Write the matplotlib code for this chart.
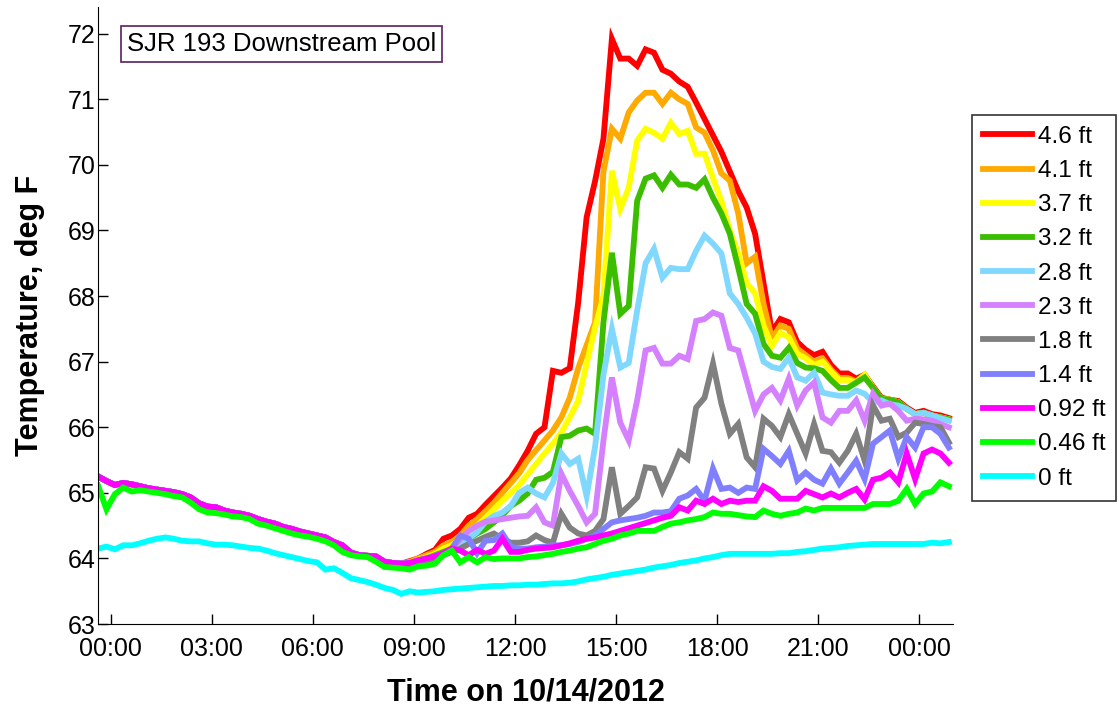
import numpy as np
import matplotlib
matplotlib.use("Agg")
import matplotlib.pyplot as plt

plt.rcParams['font.family'] = ['Liberation Sans', 'DejaVu Sans']

# sample times, hours from midnight 10/14/2012 (15 min logger interval)
t0 = -0.375
n_samples = 102
times = t0 + 0.25 * np.arange(n_samples)

# shared trace of the upper sensors before the afternoon warm-up (first 37 samples)
dawn = [65.25, 65.18, 65.12, 65.15, 65.13, 65.10, 65.07, 65.05, 65.03, 65.01,
        64.98, 64.93, 64.84, 64.79, 64.78, 64.73, 64.70, 64.68, 64.65, 64.60,
        64.56, 64.53, 64.48, 64.45, 64.41, 64.38, 64.35, 64.32, 64.25, 64.20,
        64.09, 64.05, 64.04, 64.03, 63.95, 63.93, 63.92]

# remaining 65 samples for each sensor depth
t46 = [63.96, 64.00, 64.07, 64.13, 64.30, 64.35, 64.45, 64.62, 64.68, 64.82,
       64.95, 65.08, 65.22, 65.42, 65.64, 65.90, 66.00, 66.86, 66.83, 66.90,
       67.90, 69.20, 69.75, 70.40, 71.92, 71.62, 71.62, 71.51, 71.76, 71.71,
       71.45, 71.39, 71.27, 71.19, 70.95, 70.70, 70.45, 70.20, 69.90, 69.60,
       69.35, 68.95, 68.20, 67.45, 67.65, 67.60, 67.30, 67.18, 67.10, 67.15,
       66.95, 66.82, 66.82, 66.74, 66.80, 66.62, 66.45, 66.42, 66.40, 66.30,
       66.22, 66.25, 66.20, 66.18, 66.14]
t41 = [63.95, 64.00, 64.05, 64.10, 64.20, 64.25, 64.35, 64.50, 64.60, 64.72,
       64.85, 65.00, 65.15, 65.30, 65.50, 65.65, 65.80, 65.95, 66.15, 66.45,
       66.90, 67.25, 67.60, 69.90, 70.55, 70.40, 70.80, 70.98, 71.10, 71.10,
       70.93, 71.10, 71.00, 70.93, 70.57, 70.49, 70.22, 69.87, 69.76, 69.26,
       68.50, 68.60, 67.88, 67.35, 67.55, 67.50, 67.20, 67.10, 67.00, 67.05,
       66.88, 66.75, 66.75, 66.70, 66.80, 66.60, 66.43, 66.42, 66.38, 66.28,
       66.20, 66.22, 66.18, 66.15, 66.12]
t37 = [63.93, 63.98, 64.02, 64.07, 64.15, 64.20, 64.30, 64.42, 64.50, 64.62,
       64.75, 64.88, 65.00, 65.12, 65.28, 65.44, 65.60, 65.75, 65.92, 66.15,
       66.40, 66.97, 67.52, 68.00, 69.91, 69.33, 69.65, 70.37, 70.55, 70.49,
       70.40, 70.64, 70.47, 70.52, 70.17, 70.17, 69.80, 69.45, 69.00, 68.65,
       68.20, 68.04, 67.55, 67.24, 67.44, 67.37, 67.12, 67.05, 66.95, 67.00,
       66.85, 66.72, 66.72, 66.68, 66.80, 66.60, 66.43, 66.42, 66.38, 66.28,
       66.20, 66.22, 66.18, 66.15, 66.12]
t32 = [63.92, 63.97, 64.00, 64.05, 64.10, 64.15, 64.22, 64.30, 64.38, 64.45,
       64.55, 64.66, 64.80, 64.88, 64.99, 65.20, 65.23, 65.32, 65.85, 65.87,
       65.95, 65.98, 65.90, 67.60, 68.66, 67.73, 67.85, 69.45, 69.79, 69.84,
       69.65, 69.85, 69.70, 69.70, 69.65, 69.78, 69.50, 69.26, 68.95, 68.43,
       67.88, 67.73, 67.27, 67.09, 67.06, 67.21, 66.98, 66.91, 66.90, 66.86,
       66.72, 66.60, 66.60, 66.68, 66.76, 66.60, 66.43, 66.42, 66.38, 66.28,
       66.20, 66.22, 66.18, 66.15, 66.12]
t28 = [63.92, 63.96, 64.00, 64.03, 64.08, 64.15, 64.25, 64.30, 64.40, 64.56,
       64.65, 64.70, 64.80, 65.00, 65.08, 64.99, 64.93, 65.15, 65.60, 65.44,
       65.52, 64.95, 65.70, 66.80, 67.50, 66.91, 66.98, 67.78, 68.50, 68.72,
       68.28, 68.43, 68.41, 68.41, 68.69, 68.92, 68.80, 68.65, 68.04, 67.88,
       67.67, 67.43, 67.00, 66.92, 66.89, 67.06, 66.76, 66.71, 66.83, 66.53,
       66.50, 66.48, 66.48, 66.56, 66.51, 66.38, 66.41, 66.35, 66.33, 66.28,
       66.20, 66.22, 66.18, 66.14, 66.10]
t23 = [63.93, 63.97, 64.00, 64.03, 64.07, 64.15, 64.30, 64.42, 64.50, 64.56,
       64.58, 64.60, 64.62, 64.64, 64.65, 64.78, 64.55, 64.50, 65.29, 65.03,
       64.80, 64.55, 64.68, 65.80, 66.76, 66.07, 65.80, 66.41, 67.17, 67.21,
       66.97, 66.97, 67.09, 67.04, 67.62, 67.65, 67.75, 67.70, 67.21, 67.17,
       66.71, 66.25, 66.50, 66.60, 66.41, 66.74, 66.33, 66.56, 66.68, 66.15,
       66.07, 66.25, 66.25, 66.41, 66.10, 66.51, 66.33, 66.36, 66.25, 66.10,
       66.13, 66.12, 66.10, 66.05, 66.00]
t18 = [63.90, 63.93, 63.97, 64.00, 64.05, 64.10, 64.15, 64.22, 64.27, 64.33,
       64.38, 64.30, 64.24, 64.24, 64.26, 64.35, 64.28, 64.24, 64.68, 64.47,
       64.38, 64.35, 64.42, 64.60, 65.39, 64.68, 64.80, 64.93, 65.39, 65.37,
       65.03, 65.31, 65.62, 65.52, 66.30, 66.45, 66.97, 66.36, 65.90, 66.05,
       65.54, 65.39, 66.13, 66.02, 65.85, 66.20, 65.90, 65.60, 66.05, 65.64,
       65.62, 65.46, 65.64, 65.90, 65.49, 66.33, 66.10, 66.13, 65.85, 65.92,
       66.07, 66.05, 66.02, 66.00, 65.77]
t14 = [63.93, 63.97, 64.00, 64.04, 64.08, 64.15, 64.35, 64.30, 64.08, 64.27,
       64.28, 64.38, 64.18, 64.15, 64.15, 64.17, 64.18, 64.20, 64.20, 64.22,
       64.25, 64.30, 64.35, 64.45, 64.55, 64.58, 64.60, 64.62, 64.65, 64.70,
       64.70, 64.72, 64.91, 64.96, 65.06, 64.88, 65.37, 65.06, 65.08, 65.00,
       65.08, 65.06, 65.67, 65.56, 65.44, 65.64, 65.19, 65.31, 65.20, 65.14,
       65.37, 65.14, 65.31, 65.49, 65.21, 65.75, 65.85, 65.95, 65.52, 65.85,
       65.69, 66.00, 66.00, 65.90, 65.69]
t092 = [63.93, 63.97, 64.00, 64.03, 64.08, 64.15, 64.12, 64.05, 64.13, 64.07,
        64.12, 64.30, 64.10, 64.10, 64.13, 64.15, 64.16, 64.17, 64.20, 64.23,
        64.27, 64.30, 64.32, 64.35, 64.38, 64.42, 64.46, 64.50, 64.54, 64.58,
        64.62, 64.65, 64.78, 64.73, 64.88, 64.83, 64.91, 64.83, 64.88, 64.86,
        64.88, 64.88, 65.10, 65.03, 64.91, 64.91, 64.91, 65.03, 64.98, 64.93,
        64.99, 64.93, 65.00, 65.06, 64.90, 65.20, 65.23, 65.31, 65.16, 65.60,
        65.21, 65.60, 65.66, 65.60, 65.46]

# the two deepest sensors, full day
t046 = [65.11, 64.75, 64.98, 65.08, 65.02, 65.04, 65.02, 65.00, 64.98, 64.95,
        64.93, 64.85, 64.75, 64.70, 64.69, 64.67, 64.64, 64.63, 64.60, 64.53,
        64.50, 64.46, 64.42, 64.38, 64.35, 64.33, 64.30, 64.26, 64.20, 64.10,
        64.05, 64.03, 64.02, 63.95, 63.87, 63.86, 63.85,
        63.83, 63.88, 63.89, 63.92, 64.05, 64.12, 63.94, 64.02, 63.94, 64.02,
        63.99, 64.00, 64.00, 64.00, 64.02, 64.03, 64.05, 64.07, 64.10, 64.12,
        64.15, 64.17, 64.22, 64.27, 64.30, 64.35, 64.38, 64.42, 64.42, 64.42,
        64.48, 64.53, 64.55, 64.58, 64.60, 64.63, 64.70, 64.68, 64.68, 64.66,
        64.64, 64.63, 64.73, 64.68, 64.65, 64.68, 64.70, 64.76, 64.73, 64.77,
        64.77, 64.77, 64.77, 64.77, 64.77, 64.83, 64.83, 64.83, 64.88, 65.06,
        64.83, 64.99, 65.02, 65.16, 65.10]
t0ft = [64.15, 64.18, 64.14, 64.20, 64.20, 64.23, 64.27, 64.30, 64.32, 64.30,
        64.27, 64.26, 64.26, 64.23, 64.21, 64.21, 64.20, 64.18, 64.16, 64.15,
        64.12, 64.08, 64.05, 64.02, 63.99, 63.96, 63.94, 63.83, 63.85, 63.78,
        63.70, 63.67, 63.64, 63.60, 63.55, 63.52, 63.46, 63.50, 63.48, 63.49,
        63.50, 63.52, 63.53, 63.54, 63.55, 63.56, 63.57, 63.58, 63.58, 63.59,
        63.59, 63.60, 63.60, 63.61, 63.62, 63.62, 63.63, 63.65, 63.68, 63.70,
        63.72, 63.75, 63.77, 63.79, 63.81, 63.83, 63.86, 63.88, 63.90, 63.93,
        63.95, 63.97, 64.00, 64.02, 64.05, 64.07, 64.07, 64.07, 64.07, 64.07,
        64.07, 64.08, 64.08, 64.10, 64.11, 64.13, 64.15, 64.16, 64.17, 64.19,
        64.20, 64.21, 64.22, 64.22, 64.22, 64.22, 64.22, 64.22, 64.22, 64.24,
        64.23, 64.25]

labels = ['4.6 ft', '4.1 ft', '3.7 ft', '3.2 ft', '2.8 ft', '2.3 ft',
          '1.8 ft', '1.4 ft', '0.92 ft', '0.46 ft', '0 ft']
colors = ['#ff0000', '#ffaa00', '#ffff00', '#3cbe00', '#80d8ff', '#d580ff',
          '#808080', '#8080ff', '#ff00ff', '#00ff00', '#00ffff']
series = [dawn + t46, dawn + t41, dawn + t37, dawn + t32, dawn + t28,
          dawn + t23, dawn + t18, dawn + t14, dawn + t092, t046, t0ft]

tick_hours = [0, 3, 6, 9, 12, 15, 18, 21, 24]
tick_labels = ['00:00', '03:00', '06:00', '09:00', '12:00', '15:00',
               '18:00', '21:00', '00:00']

fig = plt.figure(figsize=(11.19, 7.08), dpi=100)
ax = fig.add_axes([0.0876, 0.1186, 0.7641, 0.8709])

for vals, lab, col in zip(series, labels, colors):
    ax.plot(times, vals, color=col, lw=4.2, label=lab, solid_joinstyle='miter')

ax.set_xlim(-0.375, 25.0)
ax.set_ylim(63, 72.4)
ax.set_xticks(tick_hours)
ax.set_xticklabels(tick_labels)
ax.set_yticks(range(63, 73))
ax.tick_params(direction='in', length=7, width=1, labelsize=18)
ax.tick_params(axis='y', pad=2)
ax.tick_params(axis='x', pad=9)
ax.spines['top'].set_visible(False)
ax.spines['right'].set_visible(False)

ax.set_xlabel('Time on 10/14/2012', fontsize=22, fontweight='bold', labelpad=12)
ax.set_ylabel('Temperature, deg F', fontsize=22, fontweight='bold', labelpad=16)

ax.text(0.034, 0.9406, 'SJR 193 Downstream Pool', transform=ax.transAxes,
        fontsize=18.5, va='center', ha='left',
        bbox=dict(boxstyle='square,pad=0.22', fc='white', ec='#5a2060', lw=1.2))

leg = ax.legend(loc='upper left', bbox_to_anchor=(1.0222, 0.8255), fontsize=17.5,
                frameon=True, fancybox=False, edgecolor='black',
                handlelength=2.0, handletextpad=0.25, labelspacing=0.5,
                borderpad=0.45, borderaxespad=0)
leg.get_frame().set_linewidth(1.2)

fig.savefig('out.png', dpi=100)
